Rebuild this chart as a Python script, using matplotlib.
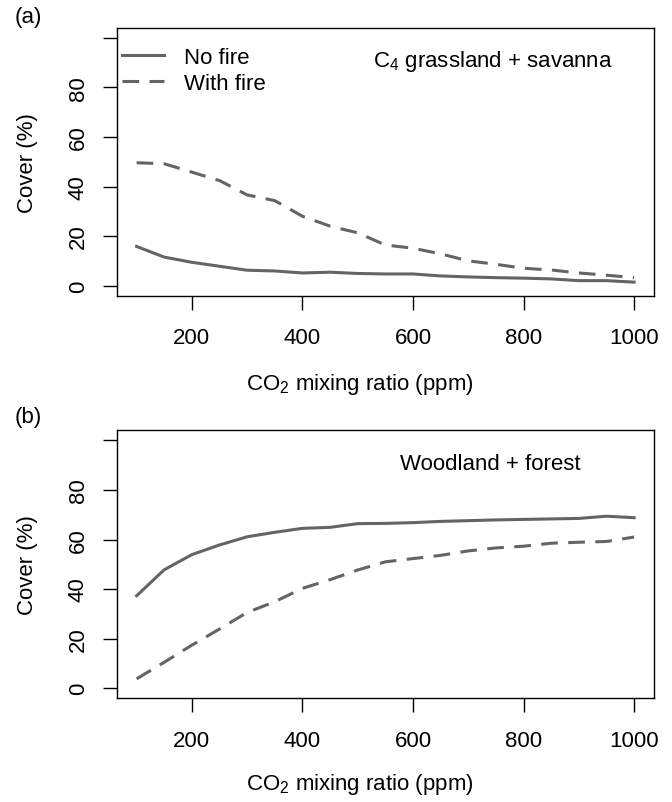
#Cover vs CO2, with and without fire

#module imports
import numpy as np
import matplotlib
matplotlib.use('Agg')
import matplotlib.pyplot as plt

#Inputs
co2 = [100, 150, 200, 250, 300, 350, 400, 450, 500, 550,
       600, 650, 700, 750, 800, 850, 900, 950, 1000]     #CO2 mixing ratio (ppm)

grass_nofire = [15.8, 11.5, 9.4, 7.8, 6.2, 5.9, 5.1, 5.4, 4.9, 4.7,
                4.7, 3.9, 3.5, 3.2, 3.0, 2.7, 2.0, 2.0, 1.4]
grass_fire = [49.6, 49.2, 45.8, 42.4, 36.6, 34.3, 28.0, 24.0, 21.3, 16.4,
              15.1, 12.8, 10.0, 8.6, 7.0, 6.3, 5.1, 4.2, 3.2]
wood_nofire = [37.3, 47.8, 53.9, 57.8, 61.1, 62.9, 64.5, 64.9, 66.4, 66.5,
               66.8, 67.3, 67.6, 67.9, 68.1, 68.3, 68.5, 69.4, 68.8]
wood_fire = [3.8, 10.5, 17.4, 23.9, 30.6, 34.9, 40.3, 43.8, 47.7, 51.0,
             52.3, 53.6, 55.4, 56.6, 57.3, 58.5, 58.9, 59.2, 61.0]

xticks = [200, 400, 600, 800, 1000]
yticks = [0, 20, 40, 60, 80, 100]
ylabels = ['0', '20', '40', '60', '80', '']

#style
W, H = 672, 803
col = '#646464'
dash = (12.0, 7.5)
plt.rcParams['font.family'] = ['Liberation Sans', 'DejaVu Sans']
plt.rcParams['mathtext.fontset'] = 'custom'
plt.rcParams['mathtext.rm'] = 'Liberation Sans'
plt.rcParams['mathtext.default'] = 'regular'
plt.rcParams['lines.scale_dashes'] = False
fs = 16

def fx(px) ->float:
    return px / W

def fy(py) ->float:
    return 1 - py / H

def setup(ax):
    ax.set_xlim(64, 1036)
    ax.set_ylim(-4, 104)
    ax.set_xticks(xticks)
    ax.set_xticklabels([str(t) for t in xticks])
    ax.set_yticks(yticks)
    ax.set_yticklabels(ylabels, rotation=90, va='center')
    ax.tick_params(axis='both', direction='out', length=10, width=1.0,
                   labelsize=fs, color='black')
    ax.tick_params(axis='x', pad=13)
    ax.tick_params(axis='y', pad=10)
    for s in ax.spines.values():
        s.set_linewidth(1.0)

fig = plt.figure(figsize=(W/100, H/100), dpi=100)

#panel (a)
ax1 = fig.add_axes([fx(116.7), fy(296.5), fx(654) - fx(116.7), fy(29) - fy(296.5)])
setup(ax1)
ax1.plot(co2, grass_nofire, color=col, lw=2.2, label='No fire')
ax1.plot(co2, grass_fire, color=col, lw=2.2, dashes=dash, dash_capstyle='butt', label='With fire')
ax1.legend(loc='upper left', frameon=False, fontsize=fs, handlelength=1.9,
           handletextpad=0.9, borderpad=0, borderaxespad=0, labelspacing=0.22,
           bbox_to_anchor=(fx(121.5), fy(48)), bbox_transform=fig.transFigure)
fig.text(fx(493), fy(61.7), r'C$_4$ grassland + savanna', fontsize=fs, ha='center', va='center')
fig.text(fx(15), fy(17.5), '(a)', fontsize=fs, ha='left', va='center')
fig.text(fx(360), fy(385), r'CO$_2$ mixing ratio (ppm)', fontsize=fs, ha='center', va='center')
fig.text(fx(28), fy(163), 'Cover (%)', fontsize=fs, ha='center', va='center', rotation=90)

#panel (b)
ax2 = fig.add_axes([fx(116.7), fy(699.2), fx(654) - fx(116.7), fy(431.4) - fy(699.2)])
setup(ax2)
ax2.plot(co2, wood_nofire, color=col, lw=2.2)
ax2.plot(co2, wood_fire, color=col, lw=2.2, dashes=dash, dash_capstyle='butt')
fig.text(fx(490), fy(465), 'Woodland + forest', fontsize=fs, ha='center', va='center')
fig.text(fx(15), fy(418), '(b)', fontsize=fs, ha='left', va='center')
fig.text(fx(360), fy(785), r'CO$_2$ mixing ratio (ppm)', fontsize=fs, ha='center', va='center')
fig.text(fx(28), fy(565), 'Cover (%)', fontsize=fs, ha='center', va='center', rotation=90)

fig.savefig('out.png', dpi=100)
